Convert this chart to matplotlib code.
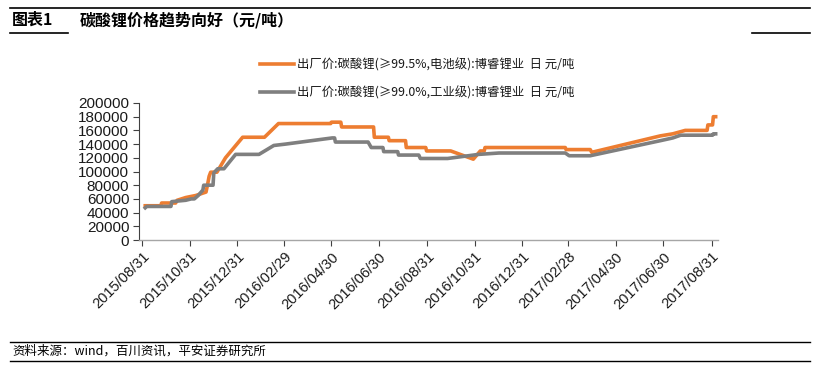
import matplotlib
matplotlib.use("Agg")
import matplotlib.pyplot as plt
from matplotlib.lines import Line2D
import pandas as pd

plt.rcParams['font.family'] = ['Liberation Sans', 'Noto Sans CJK SC', 'DejaVu Sans']
CJK = ['Noto Sans CJK SC', 'DejaVu Sans']

title_no = "图表1"
title = "碳酸锂价格趋势向好（元/吨）"
source = "资料来源：wind，百川资讯，平安证券研究所"
label_battery = "出厂价:碳酸锂(≥99.5%,电池级):博睿锂业  日 元/吨"
label_industrial = "出厂价:碳酸锂(≥99.0%,工业级):博睿锂业  日 元/吨"

battery_dates = [
    "2015-09-04", "2015-09-24", "2015-09-25", "2015-10-13", "2015-10-15", "2015-10-26",
    "2015-11-08", "2015-11-21", "2015-11-23", "2015-11-25", "2015-11-27", "2015-12-05",
    "2015-12-16", "2016-01-07", "2016-02-04", "2016-02-22", "2016-04-29", "2016-04-30",
    "2016-05-12", "2016-05-13", "2016-06-23", "2016-06-24", "2016-07-12", "2016-07-13",
    "2016-08-03", "2016-08-04", "2016-08-29", "2016-08-30", "2016-09-30", "2016-10-29",
    "2016-11-07", "2016-11-12", "2016-11-13", "2017-02-24", "2017-02-25", "2017-03-28",
    "2017-03-30", "2017-06-26", "2017-07-12", "2017-07-28", "2017-08-25", "2017-08-26",
    "2017-09-01", "2017-09-02", "2017-09-05",
]
battery_values = [
    50000, 50000, 54000, 54000, 58000, 62000,
    65000, 70000, 81000, 93000, 99000, 99000,
    120000, 150000, 150000, 170000, 170000, 172000,
    172000, 165000, 165000, 150000, 150000, 145000,
    145000, 135000, 135000, 130000, 130000, 118000,
    130000, 130000, 135000, 135000, 132000, 132000,
    128000, 152000, 155000, 160000, 160000, 168000,
    168000, 180000, 180000,
]

industrial_dates = [
    "2015-09-04", "2015-09-06", "2015-10-07", "2015-10-08", "2015-10-26", "2015-11-02",
    "2015-11-06", "2015-11-11", "2015-11-17", "2015-11-18", "2015-11-30", "2015-12-01",
    "2015-12-06", "2015-12-14", "2015-12-29", "2016-01-28", "2016-02-16", "2016-03-02",
    "2016-05-01", "2016-05-04", "2016-05-05", "2016-06-16", "2016-06-20", "2016-07-05",
    "2016-07-06", "2016-07-24", "2016-07-25", "2016-08-20", "2016-08-22", "2016-09-26",
    "2016-11-05", "2016-12-01", "2017-02-24", "2017-03-01", "2017-03-28", "2017-06-26",
    "2017-07-12", "2017-07-22", "2017-09-01", "2017-09-02", "2017-09-05",
]
industrial_values = [
    47000, 49000, 49000, 56000, 58000, 60000,
    60000, 65000, 73000, 80000, 80000, 98000,
    104000, 104000, 125000, 125000, 138000, 140000,
    149000, 149000, 143000, 143000, 135000, 135000,
    129000, 129000, 124000, 124000, 119000, 119000,
    125000, 127000, 127000, 123000, 123000, 145000,
    149000, 153000, 153000, 155000, 155000,
]

tick_dates = [
    "2015-08-31", "2015-10-31", "2015-12-31", "2016-02-29", "2016-04-30", "2016-06-30",
    "2016-08-31", "2016-10-31", "2016-12-31", "2017-02-28", "2017-04-30", "2017-06-30",
    "2017-08-31",
]
y_ticks = [0, 20000, 40000, 60000, 80000, 100000, 120000, 140000, 160000, 180000, 200000]

ORANGE = "#ED7D31"
GRAY = "#7F7F7F"

fig = plt.figure(figsize=(8.19, 3.69), dpi=100)
ax = fig.add_axes([139 / 819, 1 - 240 / 369, (718 - 139) / 819, (240 - 103) / 369])

ax.plot(pd.to_datetime(battery_dates), battery_values, color=ORANGE, lw=2.6,
        label=label_battery, solid_joinstyle='round')
ax.plot(pd.to_datetime(industrial_dates), industrial_values, color=GRAY, lw=2.6,
        label=label_industrial, solid_joinstyle='round')

ax.set_ylim(0, 200000)
ax.set_yticks(y_ticks)
ax.set_yticklabels([str(v) for v in y_ticks], fontsize=11, color='#1a1a1a')
ax.set_xlim(pd.Timestamp("2015-08-27"), pd.Timestamp("2017-09-08"))
ticks = pd.to_datetime(tick_dates)
ax.set_xticks(ticks)
ax.set_xticklabels([t.strftime("%Y/%m/%d") for t in ticks], rotation=45,
                   ha='right', rotation_mode='anchor', fontsize=10.5, color='#1a1a1a')

for s in ['top', 'right']:
    ax.spines[s].set_visible(False)
ax.spines['left'].set_color('#404040')
ax.spines['left'].set_linewidth(0.8)
ax.spines['bottom'].set_color('#A6A6A6')
ax.spines['bottom'].set_linewidth(1.0)
ax.tick_params(axis='y', direction='out', length=4, width=0.8, color='#404040', pad=3)
ax.tick_params(axis='x', direction='out', length=4, width=0.8, color='#404040', pad=3)

leg = fig.legend(loc='center', bbox_to_anchor=(0.51, 1 - 78.5 / 369), frameon=False,
                 prop={'family': CJK, 'size': 8.9}, handlelength=2.7, handletextpad=0.3,
                 labelspacing=1.2, borderpad=0)
for t in leg.get_texts():
    t.set_color('#1a1a1a')

# header
fig.add_artist(Line2D([10 / 819, 810 / 819], [1 - 8 / 369, 1 - 8 / 369], color='black', lw=1.2))
fig.add_artist(Line2D([10 / 819, 68 / 819], [1 - 33 / 369, 1 - 33 / 369], color='black', lw=1.2))
fig.add_artist(Line2D([752 / 819, 810 / 819], [1 - 33 / 369, 1 - 33 / 369], color='black', lw=1.2))
fig.text(12 / 819, 1 - 20 / 369, title_no, family=CJK, fontsize=11.5, fontweight='bold', va='center')
fig.text(80 / 819, 1 - 20 / 369, title, family=CJK, fontsize=11.5, fontweight='bold', va='center')

# footer
fig.add_artist(Line2D([10 / 819, 810 / 819], [1 - 342 / 369, 1 - 342 / 369], color='black', lw=1.0))
fig.add_artist(Line2D([10 / 819, 810 / 819], [1 - 361 / 369, 1 - 361 / 369], color='black', lw=1.0))
fig.text(12 / 819, 1 - 351.5 / 369, source, family=CJK, fontsize=9, va='center')

fig.savefig("out.png", dpi=100)
